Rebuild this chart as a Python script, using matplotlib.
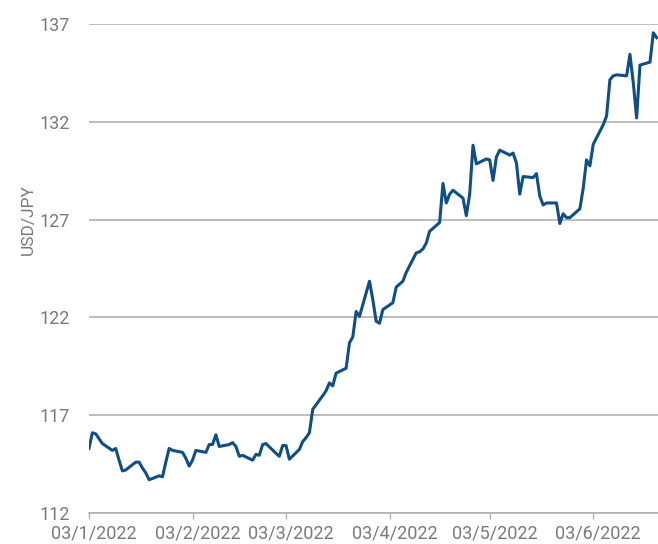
import matplotlib
matplotlib.use("Agg")
import matplotlib.pyplot as plt
import matplotlib.transforms as mtransforms
import numpy as np
import pandas as pd

# USD/JPY daily close, weekdays 3 Jan 2022 - 22 Jun 2022 (one row per week, Mon-Fri)
usd_jpy = [
    115.3, 116.1, 116.05, 115.8, 115.55,
    115.2, 115.3, 114.7, 114.15, 114.2,
    114.6, 114.6, 114.3, 114.05, 113.7,
    113.9, 113.85, 114.6, 115.3, 115.2,
    115.1, 114.8, 114.4, 114.7, 115.2,
    115.1, 115.5, 115.5, 116.0, 115.4,
    115.5, 115.6, 115.4, 114.9, 114.95,
    114.7, 115.0, 114.95, 115.5, 115.55,
    115.05, 114.9, 115.45, 115.45, 114.75,
    115.25, 115.65, 115.85, 116.1, 117.3,
    118.0, 118.25, 118.65, 118.5, 119.15,
    119.4, 120.7, 121.0, 122.3, 122.05,
    123.85, 122.9, 121.8, 121.7, 122.4,
    122.75, 123.55, 123.7, 123.85, 124.3,
    125.3, 125.35, 125.5, 125.8, 126.4,
    126.85, 128.85, 127.85, 128.3, 128.5,
    128.1, 127.2, 128.3, 130.8, 129.85,
    130.1, 130.05, 129.0, 130.2, 130.55,
    130.3, 130.4, 129.9, 128.3, 129.2,
    129.15, 129.35, 128.2, 127.75, 127.85,
    127.85, 126.8, 127.3, 127.1, 127.1,
    127.55, 128.6, 130.05, 129.75, 130.85,
    131.85, 132.3, 134.15, 134.35, 134.4,
    134.35, 135.45, 134.0, 132.2, 134.9,
    135.05, 136.55, 136.3,
]
dates = pd.bdate_range("2022-01-03", periods=len(usd_jpy))

tick_dates = pd.to_datetime(["2022-01-03", "2022-02-03", "2022-03-03",
                             "2022-04-03", "2022-05-03", "2022-06-03"])
tick_labels = ["03/1/2022", "03/2/2022", "03/3/2022",
               "03/4/2022", "03/5/2022", "03/6/2022"]
y_ticks = [112, 117, 122, 127, 132, 137]

text_color = "#7a7a7a"
grid_color = "#b0b0b0"
font = dict(family=["Roboto", "DejaVu Sans"], weight="normal")

fig = plt.figure(figsize=(6.58, 5.44), dpi=100)
ax = fig.add_axes([89 / 658, 31 / 544, 569 / 658, 489 / 544])

ax.plot(dates, usd_jpy, color="#0e4f88", lw=2.2, solid_joinstyle="round")

ax.set_ylim(112, 137)
ax.set_xlim(dates[0], dates[0] + pd.Timedelta(days=170.4))
ax.set_yticks(y_ticks)
ax.set_yticklabels([str(v) for v in y_ticks], color=text_color, fontsize=13, **font)
ax.set_xticks(tick_dates)
ax.set_xticklabels(tick_labels, color=text_color, fontsize=13, **font)

ax.grid(axis="y", color=grid_color, lw=1.2)
ax.set_axisbelow(True)
for side in ["left", "top", "right"]:
    ax.spines[side].set_visible(False)
ax.spines["bottom"].set_color(grid_color)
ax.spines["bottom"].set_linewidth(1.2)

ax.tick_params(axis="y", length=0, pad=14)
ax.tick_params(axis="x", length=4, width=1, color=grid_color, pad=4)

# labels sit a little right of their ticks
shift = mtransforms.ScaledTranslation(5 / 100, 0, fig.dpi_scale_trans)
for lab in ax.get_xticklabels():
    lab.set_transform(lab.get_transform() + shift)

ax.set_ylabel("USD/JPY", color=text_color, fontsize=12.5, **font)
ax.yaxis.set_label_coords(-0.093, 0.6)

fig.savefig("out.png", dpi=100)
